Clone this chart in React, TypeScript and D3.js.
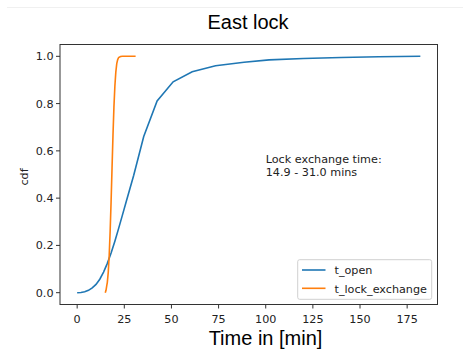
import React from "react";
import * as d3 from "d3";

const openX = [0, 2, 4, 6, 8, 10, 12, 14, 16, 18, 20, 22, 24, 26, 28, 30, 35.3, 42.4, 50.9, 61, 73.4, 88.5, 101.8, 120, 140, 160, 182];
const openY = [0, 0.001, 0.004, 0.01, 0.02, 0.035, 0.057, 0.087, 0.124, 0.168, 0.218, 0.272, 0.328, 0.385, 0.441, 0.497, 0.661, 0.811, 0.892, 0.935, 0.96, 0.975, 0.985, 0.991, 0.995, 0.998, 1.0];

const lockX = [14.9, 15.3, 15.7, 16, 16.5, 17, 17.5, 18, 18.5, 19, 19.5, 20, 20.5, 21, 21.5, 22, 23, 24, 26, 28, 31];
const lockY = [0, 0.01, 0.03, 0.044, 0.087, 0.159, 0.261, 0.386, 0.528, 0.666, 0.785, 0.873, 0.933, 0.969, 0.986, 0.995, 0.999, 1.0, 1.0, 1.0, 1.0];

const xTicks = [0, 25, 50, 75, 100, 125, 150, 175];
const yTicks = [0, 0.2, 0.4, 0.6, 0.8, 1.0];
const seriesNames = ["t_open", "t_lock_exchange"];
const colors = ["#1f77b4", "#ff7f0e"];

export default function App() {
  const W = 470, H = 354;
  const left = 60, right = 437.5, top = 44.5, bottom = 304.5;
  const x = d3.scaleLinear().domain([-9.1, 191.1]).range([left, right]);
  const y = d3.scaleLinear().domain([-0.05, 1.05]).range([bottom, top]);
  const line = d3.line<[number, number]>().x(d => x(d[0])).y(d => y(d[1]));
  const openPts = openX.map((v, i) => [v, openY[i]] as [number, number]);
  const lockPts = lockX.map((v, i) => [v, lockY[i]] as [number, number]);
  const tickFont = "DejaVu Sans, sans-serif";
  const fs = 11.2;
  return (
    <svg width={W} height={H} style={{ position: "absolute", left: 0, top: 0, background: "#fff" }}>
      <line x1={7} x2={463} y1={7.5} y2={7.5} stroke="#f0f0f0" strokeWidth={1} />
      <text x={248} y={29} textAnchor="middle" fontFamily="Liberation Sans, Arial, sans-serif" fontSize={20} fill="#000">East lock</text>
      <path d={line(openPts) || ""} fill="none" stroke={colors[0]} strokeWidth={1.6} />
      <path d={line(lockPts) || ""} fill="none" stroke={colors[1]} strokeWidth={1.6} />
      <rect x={left} y={top} width={right - left} height={bottom - top} fill="none" stroke="#333" strokeWidth={1} />
      {xTicks.map(t => (
        <g key={"x" + t}>
          <line x1={x(t)} x2={x(t)} y1={bottom} y2={bottom + 4} stroke="#333" />
          <text x={x(t)} y={322.7} textAnchor="middle" fontFamily={tickFont} fontSize={fs} fill="#222">{t}</text>
        </g>
      ))}
      {yTicks.map(t => (
        <g key={"y" + t}>
          <line x1={left - 4} x2={left} y1={y(t)} y2={y(t)} stroke="#333" />
          <text x={left - 6.5} y={y(t) + 4} textAnchor="end" fontFamily={tickFont} fontSize={fs} fill="#222">{t.toFixed(1)}</text>
        </g>
      ))}
      <text transform={`translate(28,177) rotate(-90)`} textAnchor="middle" fontFamily={tickFont} fontSize={fs} fill="#222">cdf</text>
      <text x={265.5} y={345} textAnchor="middle" fontFamily="Liberation Sans, Arial, sans-serif" fontSize={20} fill="#000">Time in [min]</text>
      <text x={x(100)} y={162.7} fontFamily={tickFont} fontSize={fs} fill="#222">Lock exchange time:</text>
      <text x={x(100)} y={175.5} fontFamily={tickFont} fontSize={fs} fill="#222">14.9 - 31.0 mins</text>
      <rect x={297.7} y={259.7} width={134} height={39.6} rx={2} fill="#fff" fillOpacity={0.8} stroke="#d0d0d0" />
      {seriesNames.map((n, i) => (
        <g key={n}>
          <line x1={302} x2={325.5} y1={270 + i * 18.3} y2={270 + i * 18.3} stroke={colors[i]} strokeWidth={1.6} />
          <text x={334.5} y={274.3 + i * 18.3} fontFamily={tickFont} fontSize={fs} fill="#222">{n}</text>
        </g>
      ))}
    </svg>
  );
}
